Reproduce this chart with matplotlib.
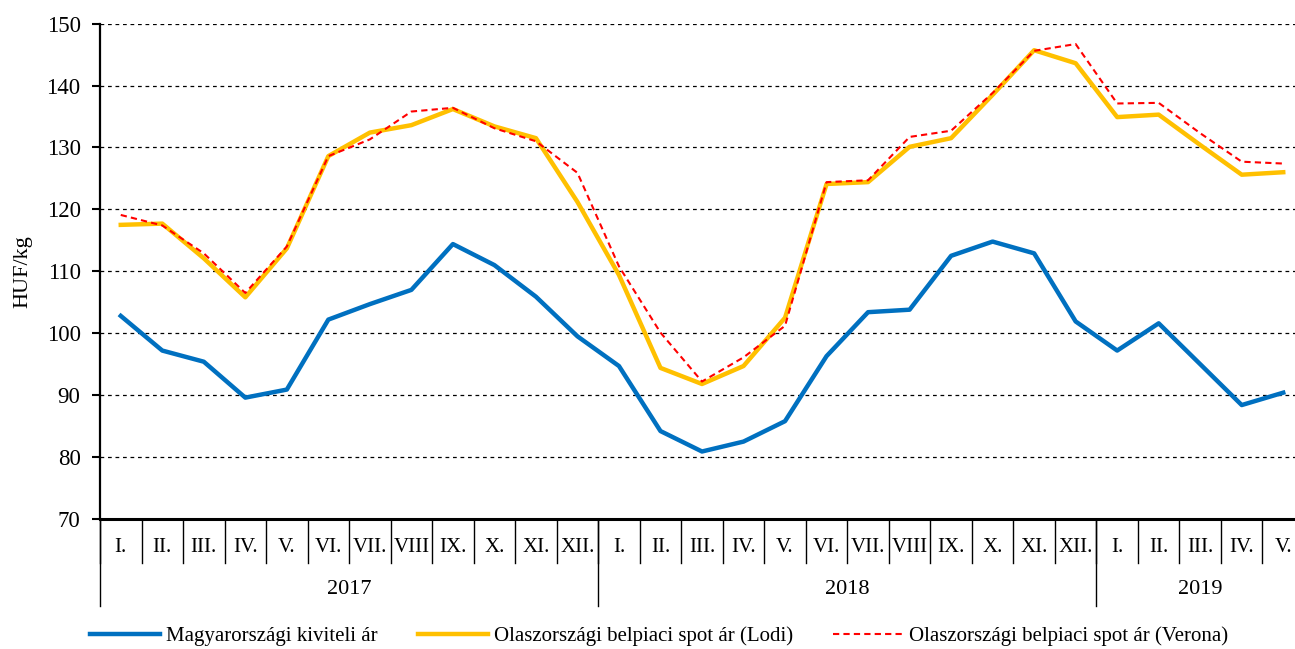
import numpy as np
import matplotlib.pyplot as plt
import matplotlib.transforms as mtransforms

plt.rcParams['font.family'] = ['Liberation Serif', 'DejaVu Serif']

months = ['I.', 'II.', 'III.', 'IV.', 'V.', 'VI.', 'VII.', 'VIII', 'IX.', 'X.', 'XI.', 'XII.',
          'I.', 'II.', 'III.', 'IV.', 'V.', 'VI.', 'VII.', 'VIII', 'IX.', 'X.', 'XI.', 'XII.',
          'I.', 'II.', 'III.', 'IV.', 'V.']
years = ['2017', '2018', '2019']
year_len = [12, 12, 5]

hu_export = [102.8, 97.2, 95.4, 89.6, 90.9, 102.2, 104.7, 107.0, 114.4, 111.0, 105.9, 99.5,
             94.7, 84.2, 80.9, 82.5, 85.8, 96.3, 103.4, 103.8, 112.5, 114.8, 112.9, 101.9,
             97.2, 101.6, 95.0, 88.4, 90.4]
it_lodi = [117.5, 117.7, 112.1, 105.8, 113.7, 128.6, 132.4, 133.6, 136.2, 133.4, 131.5, 121.2,
           109.4, 94.4, 91.8, 94.7, 102.5, 124.1, 124.4, 130.1, 131.5, 138.5, 145.7, 143.6,
           134.9, 135.3, 130.4, 125.6, 126.0]
it_verona = [119.1, 117.4, 112.9, 106.5, 114.0, 128.6, 131.3, 135.8, 136.4, 133.1, 131.0, 125.9,
             110.8, 100.1, 92.2, 96.1, 101.2, 124.4, 124.7, 131.7, 132.7, 138.8, 145.6, 146.7,
             137.1, 137.2, 132.3, 127.7, 127.4]

labels = ['Magyarországi kiviteli ár', 'Olaszországi belpiaci spot ár (Lodi)',
          'Olaszországi belpiaci spot ár (Verona)']

fig = plt.figure(figsize=(12.95, 6.49), dpi=100)
ax = fig.add_axes([100 / 1295, 1 - 519 / 649, 1204 / 1295, (519 - 23.6) / 649])

x = np.arange(len(months))
ax.plot(x, hu_export, color='#0070C0', linewidth=3.2, label=labels[0])
ax.plot(x, it_lodi, color='#FFC000', linewidth=3.2, label=labels[1])
ax.plot(x, it_verona, color='#FF0000', linewidth=1.5, linestyle=(0, (3, 2)), label=labels[2])

ax.set_xlim(-0.5, len(months) - 0.5)
ax.set_ylim(70, 150)
ax.set_yticks(np.arange(70, 151, 10))
ax.yaxis.grid(True, color='black', linestyle=(0, (3, 3)), linewidth=0.9)
ax.set_axisbelow(True)
ax.tick_params(axis='y', direction='out', length=6, width=1.5, labelsize=16.5, pad=8)
ax.set_ylabel('HUF/kg', fontsize=16, labelpad=10)

for s in ['top', 'right']:
    ax.spines[s].set_visible(False)
ax.spines['left'].set_linewidth(1.6)
ax.spines['bottom'].set_linewidth(2.2)
ax.set_xticks([])

# category axis: month boxes and year groups
trans = mtransforms.blended_transform_factory(ax.transData, ax.transAxes)
h_ax = (519 - 23.6) / 649 * 6.49 * 100
month_sep = -44 / h_ax
year_sep = -87 / h_ax
for i in range(len(months) + 1):
    ax.plot([i - 0.5, i - 0.5], [0, month_sep], color='black', linewidth=1.0,
            transform=trans, clip_on=False)
for i, m in enumerate(months):
    ax.text(i, -29 / h_ax, m, transform=trans, ha='center', va='center', fontsize=15)

start = 0
for y, n in zip(years, year_len):
    ax.plot([start - 0.5, start - 0.5], [0, year_sep], color='black', linewidth=1.0,
            transform=trans, clip_on=False)
    ax.text(start + (n - 1) / 2, -71 / h_ax, y, transform=trans, ha='center', va='center',
            fontsize=16)
    start += n

fig.legend(loc='center', bbox_to_anchor=(659 / 1295, 1 - 636 / 649), ncol=3, frameon=False,
           fontsize=15, handlelength=3.36, columnspacing=1.9, handletextpad=0.3)

fig.savefig('out.png', dpi=100)
